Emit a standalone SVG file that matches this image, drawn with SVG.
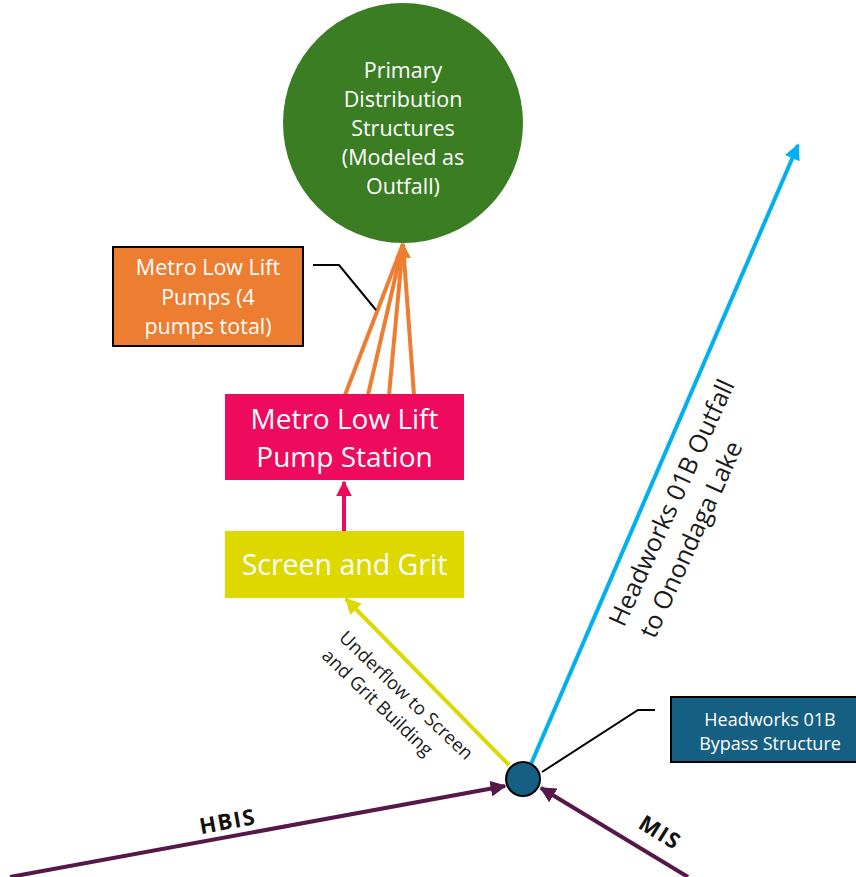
<svg xmlns="http://www.w3.org/2000/svg" width="856" height="877" viewBox="0 0 856 877">
<style>
text{font-family:"Open Sans","Liberation Sans",sans-serif;}
.w{fill:#ffffff;text-anchor:middle;}
.k{fill:#1a1a1a;text-anchor:start;}
.b{font-weight:bold;fill:#111;text-anchor:middle;letter-spacing:1.5px;}
</style>
<defs>
<marker id="ao" viewBox="0 0 10 10" refX="9" refY="5" markerWidth="4" markerHeight="4" orient="auto" markerUnits="strokeWidth"><path d="M0,0L10,5L0,10z" fill="#ED7D31"/></marker>
<marker id="ap" viewBox="0 0 10 10" refX="9" refY="5" markerWidth="4" markerHeight="4" orient="auto" markerUnits="strokeWidth"><path d="M0,0L10,5L0,10z" fill="#EE0B5E"/></marker>
<marker id="ay" viewBox="0 0 10 10" refX="9" refY="5" markerWidth="4" markerHeight="4" orient="auto" markerUnits="strokeWidth"><path d="M0,0L10,5L0,10z" fill="#DCD800"/></marker>
<marker id="ab" viewBox="0 0 10 10" refX="9" refY="5" markerWidth="4" markerHeight="4" orient="auto" markerUnits="strokeWidth"><path d="M0,0L10,5L0,10z" fill="#00B0F0"/></marker>
<marker id="am" viewBox="0 0 10 10" refX="9" refY="5" markerWidth="4" markerHeight="4" orient="auto" markerUnits="strokeWidth"><path d="M0,0L10,5L0,10z" fill="#561848"/></marker>
</defs>
<g id="connectors" fill="none">
<line x1="345" y1="395" x2="403" y2="244" stroke="#ED7D31" stroke-width="4"/>
<line x1="368" y1="395" x2="403" y2="244" stroke="#ED7D31" stroke-width="4"/>
<line x1="389" y1="395" x2="403" y2="244" stroke="#ED7D31" stroke-width="4"/>
<line x1="414" y1="395" x2="403" y2="244" stroke="#ED7D31" stroke-width="4"/>
<line x1="403" y1="262" x2="403" y2="244" stroke="#ED7D31" stroke-width="4" marker-end="url(#ao)"/>
<polyline points="313,265 339,265 376,310" stroke="#000" stroke-width="2"/>
<line x1="344" y1="531" x2="344" y2="482" stroke="#EE0B5E" stroke-width="4" marker-end="url(#ap)"/>
<line x1="509" y1="765" x2="346" y2="599" stroke="#DCD800" stroke-width="4" marker-end="url(#ay)"/>
<line x1="531" y1="764" x2="798" y2="145" stroke="#00B0F0" stroke-width="4" marker-end="url(#ab)"/>
<polyline points="542,772 638,710 655,710" stroke="#000" stroke-width="2"/>
<line x1="10" y1="877" x2="505" y2="786" stroke="#561848" stroke-width="4" marker-end="url(#am)"/>
<line x1="688" y1="877" x2="541" y2="788" stroke="#561848" stroke-width="4" marker-end="url(#am)"/>
<text class="k" font-size="18.5" transform="translate(338,639) rotate(43.7)"><tspan x="0" y="0">Underflow to Screen</tspan><tspan x="0" y="25">and Grit Building</tspan></text>
<text class="k" font-size="25" transform="translate(624,628) rotate(-65.5)"><tspan x="0" y="0">Headworks 01B Outfall</tspan><tspan x="2" y="33">to Onondaga Lake</tspan></text>
<text class="b" font-size="22" transform="translate(229,829) rotate(-10.4)">HBIS</text>
<text class="b" font-size="22" transform="translate(656,839) rotate(32)">MIS</text>
</g>
<g id="primary">
<circle cx="403" cy="123" r="120" fill="#3A7D22"/>
<text class="w" font-size="21.5"><tspan x="403" y="78">Primary</tspan><tspan x="403" y="107">Distribution</tspan><tspan x="403" y="136">Structures</tspan><tspan x="403" y="165">(Modeled as</tspan><tspan x="403" y="194">Outfall)</tspan></text>
</g>
<g id="pumps">
<rect x="113" y="247" width="190" height="99" fill="#ED7D31" stroke="#000" stroke-width="2"/>
<text class="w" font-size="21.5"><tspan x="208" y="275">Metro Low Lift</tspan><tspan x="208" y="305">Pumps (4</tspan><tspan x="208" y="334">pumps total)</tspan></text>
</g>
<g id="pumpstation">
<rect x="225" y="394" width="239" height="86" fill="#EE0B5E"/>
<text class="w" font-size="28"><tspan x="344.5" y="429">Metro Low Lift</tspan><tspan x="344.5" y="467">Pump Station</tspan></text>
</g>
<g id="screen">
<rect x="225" y="531" width="239" height="67" fill="#DCD800"/>
<text class="w" font-size="28.5" x="344.5" y="575">Screen and Grit</text>
</g>
<g id="bypass">
<circle cx="523" cy="779" r="17" fill="#156082" stroke="#000" stroke-width="2"/>
</g>
<g id="bypasslabel">
<rect x="671" y="697" width="190" height="65" fill="#156082" stroke="#000" stroke-width="2"/>
<text class="w" font-size="18"><tspan x="770" y="726">Headworks 01B</tspan><tspan x="770" y="750">Bypass Structure</tspan></text>
</g>
</svg>
